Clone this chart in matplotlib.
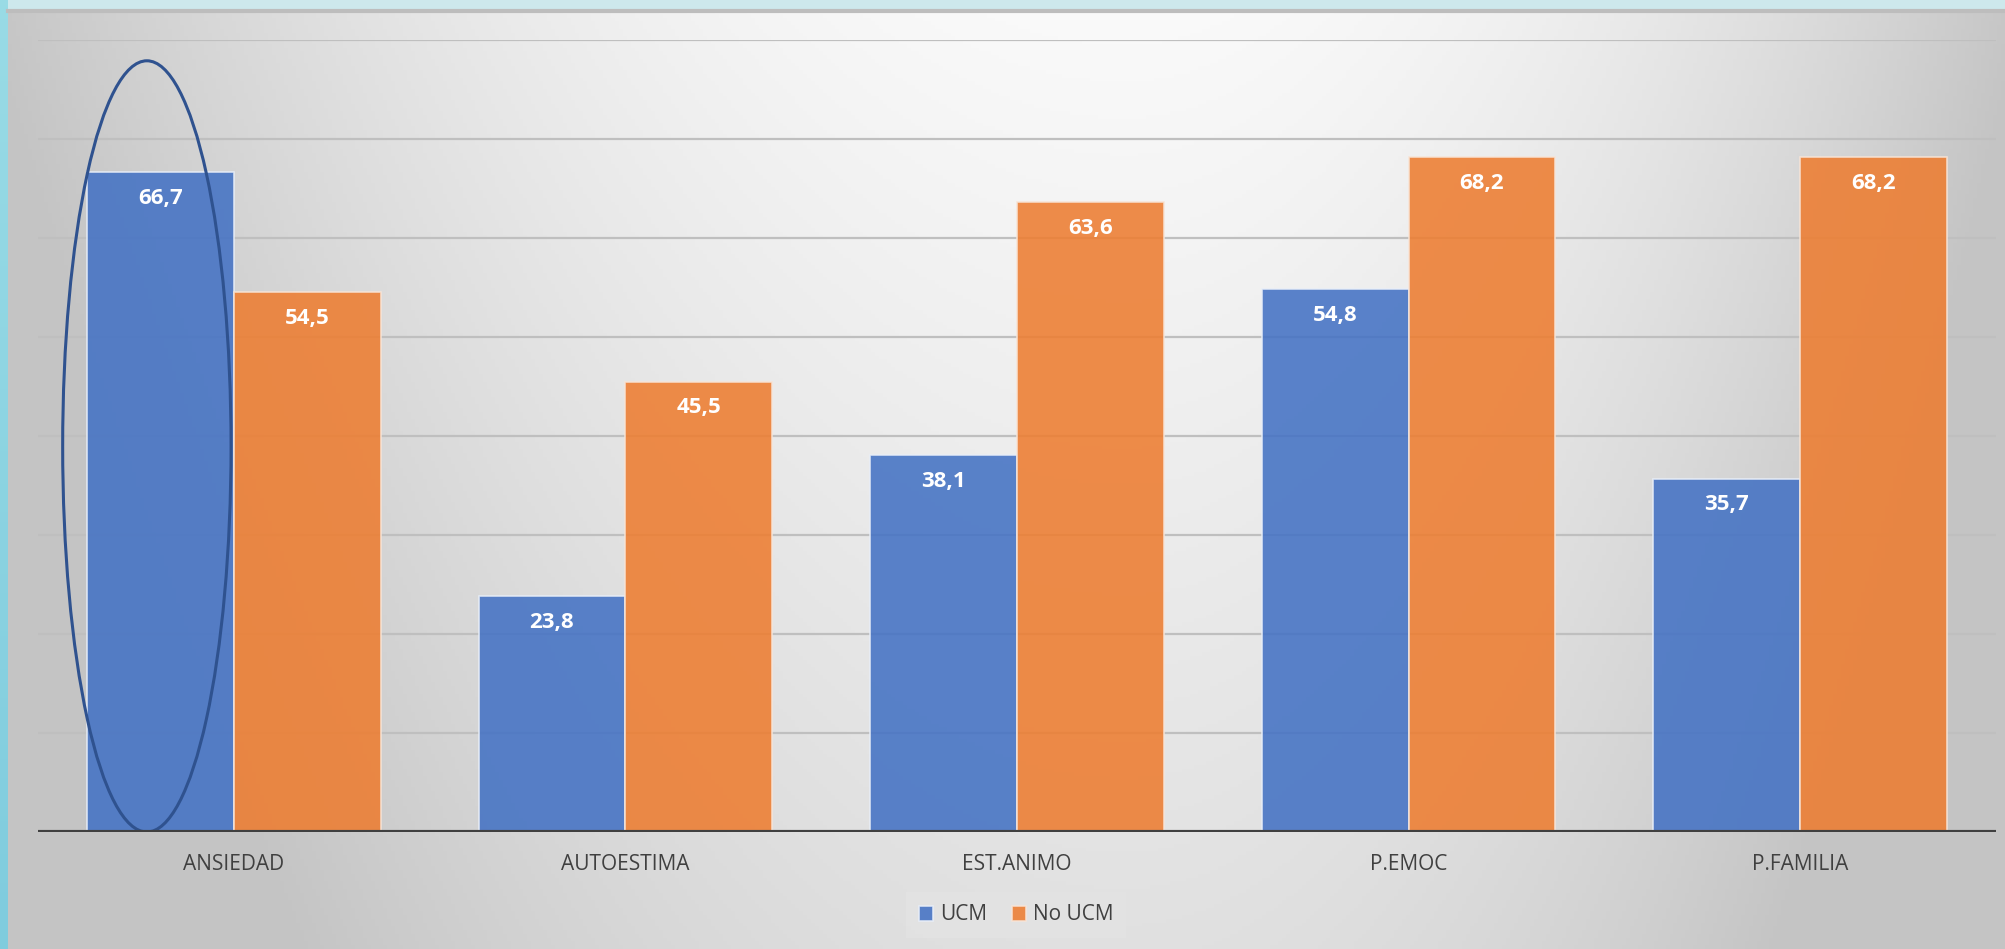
import numpy as np
import matplotlib
matplotlib.use("Agg")
import matplotlib.pyplot as plt
from matplotlib.patches import Ellipse

categories = ["ANSIEDAD", "AUTOESTIMA", "EST.ANIMO", "P.EMOC", "P.FAMILIA"]
ucm = [66.7, 23.8, 38.1, 54.8, 35.7]
no_ucm = [54.5, 45.5, 63.6, 68.2, 68.2]
series_names = ["UCM", "No UCM"]

W, H, DPI = 2005, 949, 100
fig = plt.figure(figsize=(W / DPI, H / DPI), dpi=DPI)
fig.patch.set_facecolor("#cde8ec")

# Cyan strip along the left edge
strip = fig.add_axes([0, 0, 8 / W, 1])
sy = np.linspace(0, 1, 200)[:, None]
strip_img = np.zeros((200, 1, 3))
strip_img[..., 0] = 0.50 + 0.10 * sy
strip_img[..., 1] = 0.80 + 0.06 * sy
strip_img[..., 2] = 0.87 + 0.03 * sy
strip.imshow(strip_img, aspect="auto", origin="lower")
strip.axis("off")

# Gray gradient panel, lightest near the top centre
bg = fig.add_axes([8 / W, 0, 1 - 8 / W, 1 - 10 / H])
gx = np.linspace(0, 1, 500)[None, :]
gy = np.linspace(0, 1, 250)[:, None]  # 0 = top row
cx = 0.56
dx = np.where(gx < cx, (gx - cx) / cx, (gx - cx) / (1 - cx))
val = np.maximum(0.77, 0.98 - 0.2 * dx ** 2 - 0.1 * gy)
bg.imshow(np.dstack([val, val, val]), aspect="auto", vmin=0, vmax=1,
          extent=[0, 1, 0, 1], origin="upper")
bg.set_xlim(0, 1)
bg.set_ylim(0, 1)
bg.axis("off")
bg.add_line(plt.Line2D([0, 1], [0.999, 0.999], color="#bdbdbd", lw=3,
                       transform=bg.transAxes, clip_on=False))

ax = fig.add_axes([38 / W, 1 - 832 / H, (1996 - 38) / W, (832 - 40) / H])
ax.patch.set_alpha(0)
ax.set_xlim(-0.5, len(categories) - 0.5)
ax.set_ylim(0, 80)

for v in range(10, 81, 10):
    ax.axhline(v, color="#bfbfbf", lw=1.6, zorder=1)

x = np.arange(len(categories))
bw = 0.375
b1 = ax.bar(x - bw / 2, ucm, bw, color="#4472c4", alpha=0.88,
            edgecolor="#e8eef8", linewidth=1.2, zorder=2, label=series_names[0])
b2 = ax.bar(x + bw / 2, no_ucm, bw, color="#ed7d31", alpha=0.88,
            edgecolor="#f8e4d6", linewidth=1.2, zorder=2, label=series_names[1])

for bars, vals in ((b1, ucm), (b2, no_ucm)):
    for rect, v in zip(bars, vals):
        ax.annotate(f"{v:.1f}".replace(".", ","),
                    (rect.get_x() + rect.get_width() / 2, v),
                    xytext=(0, -19), textcoords="offset points",
                    ha="center", va="center", color="white",
                    fontsize=16, fontweight="bold", family="Open Sans", zorder=4)

# Highlight ring around the first category
ax.add_patch(Ellipse((-0.222, 38.95), 0.43, 77.9, fill=False,
                     edgecolor="#2f528f", lw=2.2, zorder=5))

ax.axhline(0, color="#404040", lw=3, zorder=6)
for s in ax.spines.values():
    s.set_visible(False)
ax.set_yticks([])
ax.set_xticks(x)
ax.set_xticklabels(categories, family="Open Sans", fontsize=15, color="#404040")
ax.tick_params(axis="x", length=0, pad=16)

leg = fig.legend(handles=[b1, b2], labels=series_names, loc="center",
                 bbox_to_anchor=(1016 / W, 1 - 915 / H), ncol=2, frameon=True,
                 prop={"family": "Open Sans", "size": 15}, handlelength=0.7,
                 handleheight=0.7, handletextpad=0.3, columnspacing=1.2,
                 borderpad=0.6, fancybox=False)
leg.get_frame().set_facecolor("#e3e3e3")
leg.get_frame().set_edgecolor("none")
leg.get_frame().set_alpha(0.8)
for t in leg.get_texts():
    t.set_color("#404040")

fig.savefig("out.png", dpi=DPI)
